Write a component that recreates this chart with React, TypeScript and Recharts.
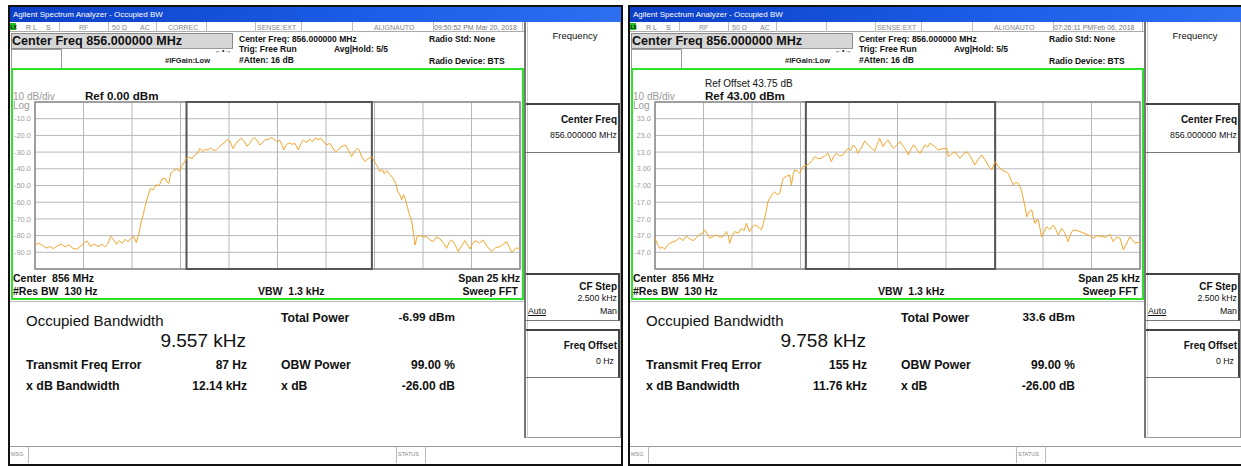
import React from 'react';
import { LineChart, Line, XAxis, YAxis, CartesianGrid, ReferenceArea } from 'recharts';

// frequency offset from centre, kHz (span 25 kHz)
const freqGrid = [-12.5, -10, -7.5, -5, -2.5, 0, 2.5, 5, 7.5, 10, 12.5];

const leftFreq = [
  -12.5, -12.3, -12.1, -11.9, -11.75, -11.55, -11.35, -11.15, -10.95, -10.75,
  -10.55, -10.35, -10.15, -9.95, -9.8, -9.65, -9.45, -9.25, -9.05, -8.9,
  -8.75, -8.6, -8.45, -8.3, -8.15, -8, -7.85, -7.7, -7.55, -7.4,
  -7.28, -7.15, -7.02, -6.92, -6.85, -6.7, -6.55, -6.4, -6.25, -6.1,
  -5.95, -5.8, -5.7, -5.6, -5.5, -5.35, -5.2, -5.05, -4.95, -4.8,
  -4.7, -4.55, -4.4, -4.27, -4.1, -4, -3.85, -3.7, -3.58, -3.45,
  -3.3, -3.15, -3, -2.9, -2.75, -2.6, -2.45, -2.3, -2.15, -2,
  -1.87, -1.72, -1.58, -1.45, -1.3, -1.18, -1.05, -0.9, -0.75, -0.6,
  -0.49, -0.35, -0.2, -0.05, 0.1, 0.25, 0.32, 0.45, 0.6, 0.75,
  0.9, 1, 1.07, 1.2, 1.33, 1.5, 1.65, 1.8, 1.95, 2.1,
  2.25, 2.4, 2.54, 2.7, 2.85, 3, 3.1, 3.25, 3.4, 3.5,
  3.65, 3.82, 3.95, 4.1, 4.2, 4.35, 4.51, 4.65, 4.86, 5,
  5.15, 5.28, 5.4, 5.5, 5.63, 5.8, 5.97, 6.1, 6.2, 6.31,
  6.4, 6.5, 6.57, 6.7, 6.8, 6.92, 7, 7.09, 7.2, 7.35,
  7.5, 7.69, 7.85, 8.03, 8.2, 8.38, 8.55, 8.72, 8.85, 8.98,
  9.15, 9.32, 9.5, 9.66, 9.8, 9.92, 10.05, 10.18, 10.4, 10.61,
  10.8, 11.04, 11.25, 11.47, 11.65, 11.81, 11.95, 12.07, 12.3, 12.5,
];

const leftLevel = [
  -85.5, -84.5, -86, -87.5, -86.5, -87.8, -86.2, -85, -86.8, -85.5,
  -87.6, -88.2, -86.4, -84, -83.3, -86.5, -85, -86.6, -85.2, -86.8,
  -84.8, -80.4, -82.5, -85.2, -83, -84.6, -82.2, -83.8, -81.5, -80.6,
  -84.2, -79, -71.6, -67.5, -63.7, -57, -51.8, -52.6, -49.5, -50.2,
  -46, -45.6, -47.8, -48.7, -42.5, -41.2, -40, -41.5, -38.7, -36,
  -33.7, -33.2, -33.9, -31.7, -30.5, -27.7, -29.6, -28.2, -28.8, -27.5,
  -29, -28.7, -27, -25.7, -24.5, -22.5, -23.5, -27.8, -25, -22.8,
  -21.7, -23.5, -26.5, -25, -22.4, -21.3, -23.2, -25.8, -24, -22.3,
  -22.7, -21.3, -22, -23.8, -22.8, -26, -28.7, -25.5, -24.5, -25.3,
  -24.8, -27, -28.7, -25, -22.7, -24.3, -22.2, -23.8, -21.6, -22.5,
  -21.8, -24.2, -25.7, -24.8, -27.5, -30.2, -29, -27, -26.3, -25.7,
  -28.6, -32.7, -30, -27.7, -28.5, -33, -35.7, -34, -32.7, -35.8,
  -38.5, -41.7, -40.2, -43, -41, -43.5, -45.7, -49, -53.5, -55.7,
  -58.5, -55.5, -57.7, -63, -67.5, -71.6, -78, -85.6, -80.5, -80,
  -80.8, -80.6, -82.5, -83.6, -80.8, -82, -84.5, -87.6, -84, -82.6,
  -85.5, -89.6, -86, -83, -85.8, -88, -85, -83, -84.5, -82.6,
  -86.5, -89.6, -87.2, -86.6, -85, -83.6, -87, -90, -87.5, -87.6,
];

const rightFreq = [
  -12.5, -12.4, -12.26, -12.1, -12, -11.87, -11.74, -11.6, -11.4, -11.23,
  -11.06, -10.89, -10.7, -10.54, -10.38, -10.2, -10.05, -9.94, -9.8, -9.68,
  -9.5, -9.34, -9.15, -8.99, -8.82, -8.72, -8.65, -8.52, -8.39, -8.2,
  -8.05, -7.9, -7.79, -7.62, -7.5, -7.36, -7.2, -7.02, -6.92, -6.85,
  -6.75, -6.68, -6.5, -6.33, -6.2, -6.07, -5.98, -5.9, -5.72, -5.56,
  -5.47, -5.38, -5.3, -5.15, -5.04, -4.87, -4.7, -4.53, -4.4, -4.27,
  -4.1, -3.93, -3.75, -3.58, -3.41, -3.28, -3.15, -2.98, -2.81, -2.68,
  -2.55, -2.42, -2.29, -2.15, -2.04, -1.85, -1.69, -1.55, -1.43, -1.3,
  -1.17, -1.05, -0.92, -0.75, -0.6, -0.49, -0.35, -0.22, -0.05, 0.13,
  0.3, 0.45, 0.56, 0.7, 0.82, 1, 1.16, 1.3, 1.42, 1.55,
  1.68, 1.9, 2.1, 2.3, 2.54, 2.62, 2.8, 2.96, 3.1, 3.22,
  3.4, 3.57, 3.75, 3.99, 4.15, 4.34, 4.5, 4.7, 4.86, 5.03,
  5.2, 5.37, 5.55, 5.71, 5.85, 5.97, 6.1, 6.23, 6.38, 6.48,
  6.58, 6.66, 6.8, 6.92, 7, 7.09, 7.18, 7.26, 7.35, 7.43,
  7.55, 7.69, 7.85, 8.03, 8.15, 8.29, 8.46, 8.6, 8.8, 8.92,
  9.06, 9.25, 9.41, 9.6, 9.75, 9.92, 10.09, 10.3, 10.53, 10.75,
  10.95, 11.12, 11.3, 11.47, 11.64, 11.8, 11.98, 12.1, 12.24, 12.4,
  12.5,
];

const rightLevel = [
  -38.6, -41.5, -44.6, -44, -45.2, -43, -41.6, -41, -40, -38.3,
  -40, -37.3, -39, -40, -38.5, -36.3, -35.5, -33.6, -36, -38.6,
  -37.5, -36.6, -38, -37.6, -34.6, -37, -41.6, -37, -34.6, -35.5,
  -32.6, -34, -29.6, -34.6, -32, -30.6, -31.5, -33.6, -30, -26.7,
  -21, -16.7, -13, -10.7, -12.5, -11.7, -7, -2.7, -1.5, -0.7,
  -6.7, -0.5, 2.3, 1.5, 0.3, 4.3, 5, 6.3, 8, 10.3,
  9, 9.3, 10.8, 12.3, 7.3, 10.5, 12.3, 10.8, 11.3, 13.5,
  15.3, 14, 17.3, 15.5, 12.3, 16, 19.6, 18, 16.3, 15,
  13.6, 17.5, 21.3, 16.3, 19, 20.3, 17.5, 15.3, 17, 19.3,
  16.5, 14, 11.3, 15, 17.3, 14.5, 12.3, 15, 17.3, 16,
  18.3, 16.5, 14.3, 15, 15.3, 10.3, 12, 13.3, 11, 9.3,
  11.8, 13.3, 10.5, 5.3, 8.5, 11.3, 8.5, 4.5, 2.3, 7.3,
  4.5, 2.3, 1.5, 0.3, -3.5, -6.7, -5, -5.7, -9.5, -14.7,
  -20, -25.7, -22.5, -21.6, -26, -29.7, -27.5, -27.7, -33, -37.7,
  -35, -31.7, -33.5, -30.7, -33, -36.7, -32.6, -35, -40.6, -36,
  -33.6, -34, -34.6, -35.5, -36.3, -37, -38.6, -37, -37.6, -38,
  -36.3, -40.6, -38, -38.6, -45.6, -42, -37.6, -39.5, -41.6, -41,
  -41.6,
];

const leftTicks = [0, -10, -20, -30, -40, -50, -60, -70, -80, -90, -100];
const leftTickLabels = ['', '-10.0', '-20.0', '-30.0', '-40.0', '-50.0', '-60.0', '-70.0', '-80.0', '-90.0', ''];
const rightTicks = [43, 33, 23, 13, 3, -7, -17, -27, -37, -47, -57];
const rightTickLabels = ['', '33.0', '23.0', '13.0', '3.00', '-7.00', '-17.0', '-27.0', '-37.0', '-47.0', ''];

// occupied bandwidth box edges, kHz
const leftObw = [-4.69, 4.865];
const rightObw = [-4.724, 5.034];

const FONT = '"Liberation Sans", Arial, sans-serif';
const TRACE = '#f5a52a';

type TProps = {
  x: number;
  y: number;
  size: number;
  bold?: boolean;
  color?: string;
  align?: 'left' | 'right' | 'center';
  children: React.ReactNode;
  underline?: boolean;
};

const T = ({ x, y, size, bold, color = '#111', align = 'left', children, underline }: TProps) => {
  const w = 300;
  const left = align === 'left' ? x : align === 'right' ? x - w : x - w / 2;
  return (
    <div
      style={{
        position: 'absolute',
        left,
        top: y - size * 0.5,
        width: align === 'left' ? undefined : w,
        textAlign: align,
        fontSize: size,
        lineHeight: `${size}px`,
        fontWeight: bold ? 'bold' : 'normal',
        color,
        whiteSpace: 'pre',
        fontFamily: FONT,
        textDecoration: underline ? 'underline' : 'none',
      }}
    >
      {children}
    </div>
  );
};

const Box = ({ x, y, w, h, style }: { x: number; y: number; w: number; h: number; style: React.CSSProperties }) => (
  <div style={{ position: 'absolute', left: x, top: y, width: w, height: h, boxSizing: 'border-box', ...style }} />
);

type Trace = { freq: number[]; level: number[]; ticks: number[]; labels: string[]; obw: number[] };

const Plot = ({ freq, level, ticks, labels, obw }: Trace) => {
  const data = freq.map((f, i) => ({ f, level: level[i] }));
  return (
    <div style={{ position: 'absolute', left: 11, top: 95 }}>
      <LineChart width={512} height={180} data={data} margin={{ top: 7, right: 3, bottom: 6, left: 0 }}>
        <CartesianGrid stroke="#b8b8b8" strokeWidth={1} />
        <XAxis dataKey="f" type="number" domain={[-12.5, 12.5]} ticks={freqGrid} hide />
        <YAxis
          type="number"
          domain={[ticks[ticks.length - 1], ticks[0]]}
          ticks={ticks}
          width={24}
          axisLine={false}
          tickLine={false}
          tickSize={0}
          tickMargin={4}
          interval={0}
          tick={{ fill: '#a0a0a0', fontSize: 7.5, fontFamily: FONT }}
          tickFormatter={(v: number) => labels[ticks.indexOf(v)] ?? ''}
        />
        <ReferenceArea
          x1={-12.5}
          x2={12.5}
          y1={ticks[ticks.length - 1]}
          y2={ticks[0]}
          stroke="#8a8a8a"
          strokeWidth={1.5}
          fill="none"
          fillOpacity={0}
        />
        <ReferenceArea
          x1={obw[0]}
          x2={obw[1]}
          y1={ticks[ticks.length - 1]}
          y2={ticks[0]}
          stroke="#555"
          strokeWidth={2}
          fill="none"
          fillOpacity={0}
        />
        <Line
          dataKey="level"
          type="linear"
          stroke={TRACE}
          strokeWidth={1}
          dot={false}
          isAnimationActive={false}
        />
      </LineChart>
    </div>
  );
};

type ScreenProps = {
  left: number;
  stamp: string;
  correc: string;
  refOffset?: string;
  refLevel: string;
  trace: Trace;
  obwValue: string;
  totalPower: string;
  freqError: string;
  xdbBandwidth: string;
};

const statusCells = [58.7, 108, 156, 206, 254.7, 301, 351.7, 432.7, 521.7];

const Screen = ({ left, stamp, correc, refOffset, refLevel, trace, obwValue, totalPower, freqError, xdbBandwidth }: ScreenProps) => (
  <div style={{ position: 'absolute', left, top: 0, width: 624, height: 466 }}>
    {/* frame */}
    <Box x={8} y={5} w={615} h={461} style={{ border: '2px solid #111', background: '#fff' }} />
    <Box x={10} y={7} w={611} h={15} style={{ background: 'linear-gradient(to right, #0b3fc6, #1c5ee6 60%, #2d6ff0)' }} />
    <T x={13} y={15} size={8} color="#fff">Agilent Spectrum Analyzer - Occupied BW</T>

    {/* status row */}
    <Box x={10} y={22} w={514} h={10} style={{ borderBottom: '1px solid #aaa' }} />
    {statusCells.map((cx) => (
      <Box key={cx} x={cx} y={22} w={1} h={10} style={{ background: '#bbb' }} />
    ))}
    <Box x={10} y={23} w={6} h={7} style={{ background: '#1fc21f' }} />
    <T x={10.5} y={27} size={5} bold>LX</T>
    <T x={26} y={27} size={7} color="#777">R L</T>
    <T x={46} y={27} size={7} color="#777">S</T>
    <T x={79} y={27} size={7} color="#888">RF</T>
    <T x={112} y={27} size={7} color="#888">50 Ω</T>
    <T x={140} y={27} size={7} color="#888">AC</T>
    <T x={168} y={27} size={7} color="#888">{correc}</T>
    <T x={257} y={27} size={7} color="#888">SENSE:EXT</T>
    <T x={374} y={27} size={7} color="#888">ALIGNAUTO</T>
    <T x={434} y={27} size={7} color="#777">{stamp}</T>

    {/* centre freq header */}
    <Box x={11} y={33} w={222} h={16} style={{ background: '#d6d6d6', border: '1px solid #8a8a8a' }} />
    <T x={12} y={41} size={12.6} bold>Center Freq 856.000000 MHz</T>
    <Box x={11} y={49} w={51} h={20} style={{ border: '1px solid #9a9a9a' }} />
    <Box x={61} y={48} w={172} h={1} style={{ background: '#9a9a9a' }} />
    <T x={165} y={61} size={7.5} bold color="#222">#IFGain:Low</T>
    <T x={215} y={50.5} size={7} color="#222">←•→</T>
    <T x={239} y={39} size={8.5} bold>Center Freq: 856.000000 MHz</T>
    <T x={239} y={49.5} size={8.5} bold>Trig: Free Run</T>
    <T x={239} y={60} size={8.5} bold>#Atten: 16 dB</T>
    <T x={334} y={49.5} size={8.5} bold>Avg|Hold: 5/5</T>
    <T x={429} y={39} size={8.5} bold>Radio Std: None</T>
    <T x={429} y={61} size={8.5} bold>Radio Device: BTS</T>

    {/* trace window */}
    <Box x={11} y={68} w={513} h={232} style={{ border: '2px solid #2fe02f' }} />
    {refOffset && <T x={85} y={84} size={10}>{refOffset}</T>}
    <T x={13} y={97} size={10} color="#9a9a9a">10 dB/div</T>
    <T x={85} y={96} size={11.6} bold>{refLevel}</T>
    <T x={13} y={106} size={10} color="#9a9a9a">Log</T>
    <Plot {...trace} />
    <T x={13} y={278} size={10.5} bold>Center  856 MHz</T>
    <T x={13} y={291} size={10.5} bold>#Res BW  130 Hz</T>
    <T x={258} y={291} size={10.5} bold>VBW  1.3 kHz</T>
    <T x={520} y={278} size={10.5} bold align="right">Span 25 kHz</T>
    <T x={518} y={291} size={10.5} bold align="right">Sweep FFT</T>

    {/* results */}
    <Box x={10} y={301} w={514} h={1} style={{ background: '#bbb' }} />
    <T x={26} y={320} size={15}>Occupied Bandwidth</T>
    <T x={246} y={340} size={19} align="right">{obwValue}</T>
    <T x={281} y={318} size={12.2} bold>Total Power</T>
    <T x={455} y={318} size={11.8} bold align="right">{totalPower}</T>
    <T x={26} y={365} size={12.4} bold>Transmit Freq Error</T>
    <T x={247} y={365} size={12} bold align="right">{freqError}</T>
    <T x={281} y={365} size={12.2} bold>OBW Power</T>
    <T x={455} y={365} size={12} bold align="right">99.00 %</T>
    <T x={26} y={386} size={12.4} bold>x dB Bandwidth</T>
    <T x={247} y={386} size={12} bold align="right">{xdbBandwidth}</T>
    <T x={281} y={386} size={12.2} bold>x dB</T>
    <T x={455} y={386} size={12} bold align="right">-26.00 dB</T>

    {/* softkey panel */}
    <Box x={524} y={22} w={97} h={416} style={{ borderLeft: '2px solid #777', borderRight: '1px solid #999', borderBottom: '1px solid #999' }} />
    <Box x={527} y={22} w={1} h={416} style={{ background: '#ccc' }} />
    <T x={575} y={36} size={9.5} align="center">Frequency</T>
    <Box x={526} y={103} w={94} h={50} style={{ borderTop: '2px solid #444', borderRight: '2px solid #444', borderBottom: '1px solid #777' }} />
    <T x={617} y={120} size={10} bold align="right">Center Freq</T>
    <T x={617} y={135} size={8.8} align="right">856.000000 MHz</T>
    <Box x={526} y={273} w={94} h={48} style={{ borderTop: '2px solid #444', borderRight: '2px solid #444', borderBottom: '1px solid #777' }} />
    <T x={617} y={287} size={10} bold align="right">CF Step</T>
    <T x={617} y={298} size={8.8} align="right">2.500 kHz</T>
    <T x={528} y={311} size={8.8} underline>Auto</T>
    <T x={617} y={311} size={8.8} align="right">Man</T>
    <Box x={526} y={329} w={94} h={49} style={{ borderTop: '2px solid #444', borderRight: '2px solid #444', borderBottom: '1px solid #777' }} />
    <T x={617} y={346} size={10} bold align="right">Freq Offset</T>
    <T x={614} y={361} size={8.8} align="right">0 Hz</T>

    {/* message bar */}
    <Box x={10} y={446} w={611} h={17} style={{ borderTop: '1px solid #999' }} />
    <Box x={28} y={446} w={1} h={17} style={{ background: '#bbb' }} />
    <Box x={396} y={446} w={1} h={17} style={{ background: '#bbb' }} />
    <Box x={425} y={446} w={1} h={17} style={{ background: '#bbb' }} />
    <T x={11} y={455} size={5.5} color="#888">MSG</T>
    <T x={398} y={455} size={5.5} color="#888">STATUS</T>
  </div>
);

export default function App() {
  return (
    <div style={{ position: 'absolute', left: 0, top: 0, width: 1241, height: 466, background: '#fff', overflow: 'hidden' }}>
      <Screen
        left={0}
        stamp="09:50:52 PM Mar 20, 2018"
        correc="CORREC"
        refLevel="Ref 0.00 dBm"
        trace={{ freq: leftFreq, level: leftLevel, ticks: leftTicks, labels: leftTickLabels, obw: leftObw }}
        obwValue="9.557 kHz"
        totalPower="-6.99 dBm"
        freqError="87 Hz"
        xdbBandwidth="12.14 kHz"
      />
      <Screen
        left={620}
        stamp="07:26:11 PMFeb 06, 2018"
        correc=""
        refOffset="Ref Offset 43.75 dB"
        refLevel="Ref 43.00 dBm"
        trace={{ freq: rightFreq, level: rightLevel, ticks: rightTicks, labels: rightTickLabels, obw: rightObw }}
        obwValue="9.758 kHz"
        totalPower="33.6 dBm"
        freqError="155 Hz"
        xdbBandwidth="11.76 kHz"
      />
    </div>
  );
}
